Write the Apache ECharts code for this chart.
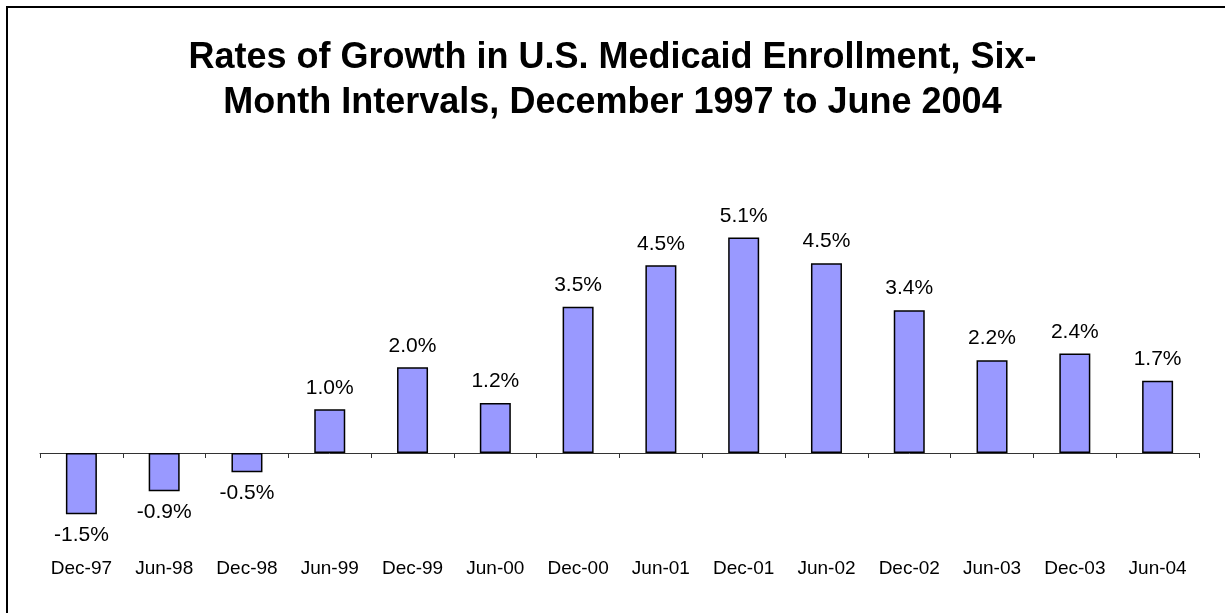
<!DOCTYPE html>
<html>
<head>
<meta charset="utf-8">
<script src="https://cdn.jsdelivr.net/npm/echarts@6/dist/echarts.min.js"></script>
<style>
html,body{margin:0;padding:0;background:#fff;}
#chart{width:1225px;height:613px;}
</style>
</head>
<body>
<div id="chart"></div>
<script>
const categories = ['Dec-97','Jun-98','Dec-98','Jun-99','Dec-99','Jun-00','Dec-00','Jun-01','Dec-01','Jun-02','Dec-02','Jun-03','Dec-03','Jun-04'];
const growthRates = [-1.46, -0.91, -0.46, 1.04, 2.04, 1.19, 3.48, 4.47, 5.13, 4.52, 3.40, 2.21, 2.37, 1.72];
const titleLines = ['Rates of Growth in U.S. Medicaid Enrollment, Six-', 'Month Intervals, December 1997 to June 2004'];

const FONT = 'Arial, "Liberation Sans", sans-serif';
const chart = echarts.init(document.getElementById('chart'), null, {renderer: 'canvas'});
chart.setOption({
  animation: false,
  backgroundColor: '#ffffff',
  title: {
    text: titleLines.join('\n'),
    left: 'center',
    top: 31,
    textStyle: {fontFamily: FONT, fontWeight: 'bold', fontSize: 36, lineHeight: 45, color: '#000'}
  },
  graphic: [{
    type: 'rect',
    shape: {x: 7, y: 7, width: 1400, height: 800},
    style: {fill: 'none', stroke: '#000', lineWidth: 2},
    silent: true
  }],
  grid: {left: 40, right: 26, top: 201, bottom: 76},
  xAxis: [{
    type: 'category',
    data: categories,
    axisLine: {onZero: true, lineStyle: {color: '#333', width: 1}},
    axisTick: {show: true, length: 5, lineStyle: {color: '#333'}},
    axisLabel: {show: false}
  }, {
    type: 'category',
    data: categories,
    position: 'bottom',
    axisLine: {show: false, onZero: false},
    axisTick: {show: false},
    axisLabel: {show: true, margin: 22, fontFamily: FONT, fontSize: 19, color: '#000'}
  }],
  yAxis: {
    type: 'value', min: -2, max: 6, show: false, splitLine: {show: false}
  },
  series: [{
    type: 'bar',
    xAxisIndex: 0,
    data: growthRates.map(v => v < 0 ? {value: v, label: {position: 'bottom', distance: 10}} : v),
    barWidth: 31,
    itemStyle: {color: '#9999FF', borderColor: '#000', borderWidth: 1.5},
    label: {
      show: true,
      position: 'top',
      distance: 11,
      fontFamily: FONT,
      fontSize: 21,
      color: '#000',
      formatter: p => p.value.toFixed(1) + '%'
    }
  }]
});
</script>
</body>
</html>
